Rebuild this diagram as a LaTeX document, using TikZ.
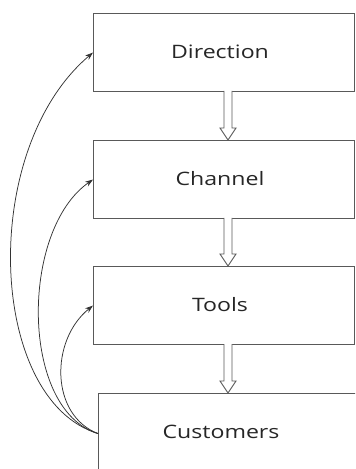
\documentclass[tikz,border=0pt]{standalone}
\usepackage{fontspec}
\setmainfont{Open Sans}[FakeStretch=1.25]
\usetikzlibrary{arrows.meta,calc}
\definecolor{linec}{HTML}{595959}
\definecolor{textc}{HTML}{262626}
\tikzset{
  box/.style={draw=linec, line width=1.1bp, minimum width=261bp, minimum height=78bp, inner sep=0pt},
  lbl/.style={text=textc, font=\fontsize{18.5bp}{22bp}\selectfont, inner sep=0pt},
  fb/.style={draw=black!80, line width=0.75bp, -{Stealth[length=8bp,width=5.5bp]}},
  hollow/.style={draw=linec, line width=0.9bp, fill=white}
}
\newcommand{\hollowarrow}[2]{%
  \draw[hollow] let \p1=(#1), \p2=(#2) in
    (\x1-4bp,\y1) -- (\x1-4bp,\y2+12bp) -- (\x1-8bp,\y2+12bp) -- (\x1,\y2)
    -- (\x1+8bp,\y2+12bp) -- (\x1+4bp,\y2+12bp) -- (\x1+4bp,\y1);}
\begin{document}
\begin{tikzpicture}[x=1bp,y=-1bp]
\useasboundingbox (0,0) rectangle (355,469);
\clip (0,0) rectangle (355,469);
\node[box, anchor=north west] (dir) at (93,13) {};
\node[lbl] (dirt) at (220,52) {Direction};
\node[box, anchor=north west] (chan) at (93,140) {};
\node[lbl] (chant) at (220,179) {Channel};
\node[box, anchor=north west] (tools) at (93,266) {};
\node[lbl] (toolst) at (220,305) {Tools};
\node[box, anchor=north west, minimum width=270bp, minimum height=80bp] (cust) at (98,393) {};
\node[lbl] (custt) at (221,432) {Customers};
\coordinate (a1s) at (228,91);  \coordinate (a1e) at (228,140);
\coordinate (a2s) at (228,218); \coordinate (a2e) at (228,266);
\coordinate (a3s) at (228,344); \coordinate (a3e) at (228,393);
\hollowarrow{a1s}{a1e}
\hollowarrow{a2s}{a2e}
\hollowarrow{a3s}{a3e}
\draw[fb] (cust.west) .. controls (-12,400) and (-22,150) .. (dir.west);
\draw[fb] (cust.west) .. controls (20,410) and (20,230) .. (chan.west);
\draw[fb] (cust.west) .. controls (50,415) and (50,340) .. (tools.west);
\end{tikzpicture}
\end{document}
